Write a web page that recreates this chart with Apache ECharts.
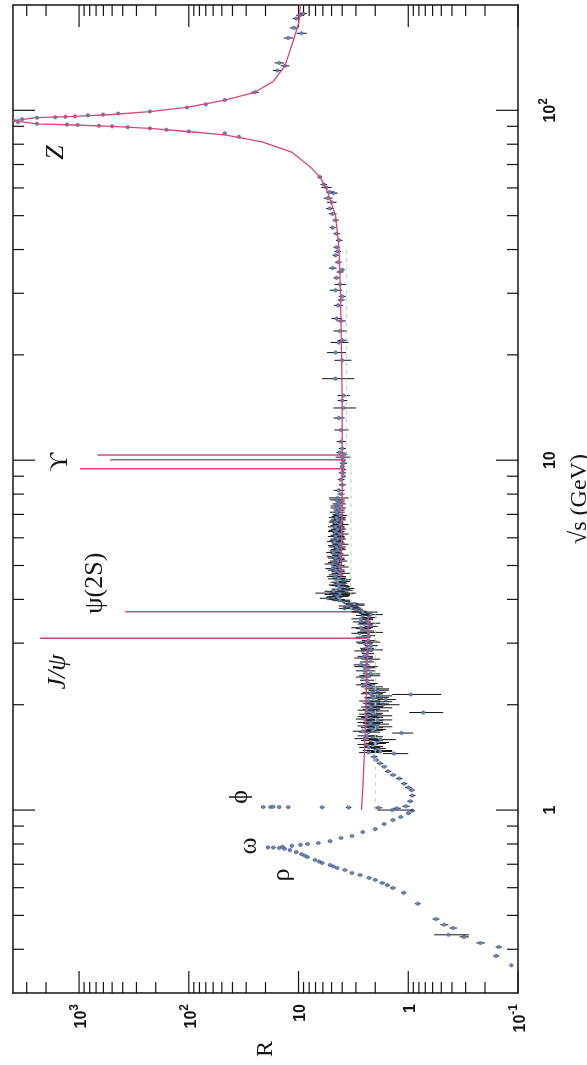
<!DOCTYPE html>
<html><head><meta charset="utf-8">
<script src="https://cdn.jsdelivr.net/npm/echarts@6/dist/echarts.min.js"></script>
<style>html,body{margin:0;padding:0;background:#fff}#c{width:587px;height:1065px}</style>
</head><body><div id="c"></div>
<script>
// ---- axis ranges and ticks ----
const rRange = [0.1, 4000];
const sRange = [0.3, 200];
const rMajorTicks = [0.1, 1, 10, 100, 1000];
const rMinorTicks = [0.2,0.3,0.4,0.5,0.6,0.7,0.8,0.9, 2,3,4,5,6,7,8,9, 20,30,40,50,60,70,80,90, 200,300,400,500,600,700,800,900, 2000,3000];
const sMajorTicks = [1, 10, 100];
const sMinorTicks = [0.4,0.5,0.6,0.7,0.8,0.9, 2,3,4,5,6,7,8,9, 20,30,40,50,60,70,80,90];

// ---- data points: [sqrt(s) GeV, R, error on R] ----
const lowEnergyPts = [[0.36,0.115,0],[0.383,0.158,0.01],[0.406,0.15,0.01],[0.417,0.22,0.02],[0.434,0.31,0.03],[0.44,0.43,0.15],[0.46,0.39,0.03],[0.47,0.47,0.04],[0.488,0.56,0.04],[0.54,0.82,0.05],[0.58,1.1,0.06],
 [0.599,1.38,0.08],[0.61,1.55,0.08],[0.619,1.73,0.1],[0.631,2.0,0.1],[0.64,2.28,0.12],[0.652,2.75,0.15],[0.661,3.26,0.15],[0.674,3.78,0.2],[0.683,4.45,0.2],[0.69,4.8,0.2],[0.696,5.16,0.25],[0.706,6.1,0.3],[0.713,6.5,0.3],[0.72,7.1,0.3],[0.734,8.3,0.4],[0.741,8.8,0.4],[0.748,9.4,0.4],[0.758,10.5,0.5],[0.768,12,0.5],[0.775,13.4,0.6],[0.779,15,0.6],[0.781,17,0.8],[0.782,19,0.8],[0.785,14,0.6],[0.79,11.5,0.5],[0.795,9.6,0.4],[0.8,8.3,0.4],[0.805,6.6,0.3],[0.815,5.16,0.25],[0.832,4.1,0.2],[0.843,3.26,0.15],[0.865,2.6,0.12],[0.882,2.0,0.1],[0.912,1.66,0.08],[0.936,1.38,0.07],[0.955,1.17,0.06],[0.98,1.0,0.05],[0.995,0.92,0.05]];
const phiPts = [[1.0,1.4,0.5],[1.012,1.27,0.1],[1.015,1.88,0.15],[1.017,3.5,0.2],[1.018,6.1,0.3],[1.019,12.4,0.5],[1.0195,15,0.6],[1.02,18,0.8],[1.0205,21,1],[1.022,17,0.7],[1.025,1.05,0.08]];
const midPts = [[1.06,0.96,0.06],[1.1,0.92,0.06],[1.14,0.93,0.06],[1.16,1.0,0.07],[1.19,1.09,0.07],[1.23,1.21,0.08],[1.26,1.38,0.09],[1.29,1.53,0.1],[1.33,1.66,0.1],[1.36,1.81,0.12],[1.39,1.96,0.12],[1.42,2.05,0.15],[1.45,1.35,0.35]];
const blobPts = [[1.46,2.3,0.5],[1.48,2.0,0.6],[1.5,1.9,0.3],[1.52,2.1,0.4],[1.54,2.4,0.5],[1.56,1.9,0.4],[1.58,2.2,0.5],[1.6,2.5,0.6],[1.62,2.1,0.4],[1.66,1.15,0.25],[1.67,2.3,0.5],[1.68,2.6,0.6],[1.7,2.0,0.4],[1.72,2.2,0.5],[1.74,2.4,0.5],[1.76,1.9,0.4],[1.78,2.3,0.6],[1.8,2.1,0.4],[1.82,2.5,0.5],[1.84,2.2,0.5],[1.86,1.8,0.4],[1.88,2.3,0.5],[1.9,0.73,0.25],[1.92,2.0,0.5],[1.94,2.2,0.4],[1.96,1.9,0.5],[1.98,2.1,0.4],[2.0,1.7,0.5],[2.02,2.2,0.4],[2.04,1.9,0.5],[2.07,1.6,0.3],[2.1,2.0,0.5],[2.12,1.8,0.4],[2.14,0.95,0.45],[2.17,2.1,0.5],[2.2,1.9,0.4],[2.25,2.2,0.5],[2.3,2.3,0.4]];
const blobPts2 = [[1.47,1.8,0.4],[1.51,2.3,0.5],[1.55,2.0,0.4],[1.59,1.8,0.5],[1.63,2.4,0.5],[1.69,2.1,0.4],[1.73,1.9,0.5],[1.77,2.2,0.4],[1.81,1.9,0.5],[1.85,2.4,0.5],[1.89,2.1,0.4],[1.93,2.4,0.5],[1.97,2.2,0.5],[2.01,2.0,0.5],[2.05,2.3,0.5],[2.09,2.1,0.4],[2.15,2.2,0.5],[2.22,2.0,0.5],[2.28,2.5,0.5]];
const belowCharmPts = [[2.35,2.4,0.35],[2.4,2.6,0.4],[2.45,2.2,0.4],[2.5,2.5,0.5],[2.55,2.3,0.3],[2.6,2.7,0.45],[2.65,2.4,0.35],[2.7,2.2,0.4],[2.75,2.5,0.4],[2.8,2.35,0.3],[2.85,2.6,0.5],[2.9,2.4,0.35],[2.95,2.2,0.3],[3.0,2.5,0.4],[3.05,2.3,0.35],[3.12,2.6,0.4],[3.15,2.3,0.3],[3.2,2.8,0.5],[3.25,2.4,0.35],[3.3,2.6,0.4],[3.35,2.2,0.3],[3.4,2.5,0.4],[3.45,2.7,0.5],[3.5,2.4,0.3],[3.55,2.3,0.35],[3.6,2.6,0.4],[3.65,2.5,0.3],[3.7,2.8,0.4]];
const belowCharmPts2 = [[2.42,2.3,0.5],[2.57,2.5,0.6],[2.72,2.6,0.5],[2.87,2.2,0.5],[3.02,2.4,0.6],[3.22,2.3,0.6],[3.32,2.7,0.6],[3.42,2.3,0.5],[3.52,2.7,0.6],[3.62,2.2,0.5],[3.68,2.6,0.7]];
const charmPts = [[3.75,3.0,0.4],[3.77,3.8,0.5],[3.8,3.2,0.4],[3.85,2.9,0.4],[3.9,3.4,0.5],[3.95,3.9,0.5],[4.0,4.6,0.8],[4.03,5.4,1.0],[4.06,4.8,0.8],[4.1,4.1,0.7],[4.13,4.6,1.2],[4.17,5.0,2.0],[4.2,4.3,0.8],[4.25,3.8,0.6],[4.3,3.6,0.5],[4.35,4.0,0.6],[4.4,4.5,0.8],[4.45,4.2,0.6],[4.5,3.9,0.5],[4.55,3.8,0.5]];
const charmPts2 = [[3.78,3.3,0.6],[3.83,3.6,0.7],[3.88,3.1,0.6],[3.98,4.2,0.8],[4.08,4.4,0.9],[4.15,4.2,1.0],[4.22,4.8,1.0],[4.28,4.2,0.8],[4.38,4.3,0.8],[4.48,4.4,0.7],[4.58,4.6,0.8]];
const continuumPts = [[4.6,4.3,0.6],[4.7,4.6,0.7],[4.8,4.4,0.6],[4.9,4.9,0.8],[5.0,4.4,0.6],[5.1,4.7,0.7],[5.2,4.3,0.5],[5.3,4.8,0.7],[5.4,4.5,0.6],[5.5,4.6,0.6],[5.6,4.3,0.5],[5.7,4.7,0.7],[5.8,4.4,0.6],[5.9,4.6,0.6],[6.0,4.3,0.5],[6.1,4.5,0.6],[6.2,4.4,0.5],[6.3,4.7,0.6],[6.4,4.3,0.5],[6.5,4.5,0.6],[6.6,4.4,0.5],[6.7,4.6,0.6],[6.8,4.3,0.5],[6.9,4.5,0.5],[7.0,4.4,0.5],[7.2,4.3,0.5],[7.4,4.5,0.6],[7.6,4.2,0.4],[7.8,4.4,0.9],[8.0,4.1,0.3],[8.2,4.3,0.5],[8.5,4.0,0.3],[8.8,4.1,0.3],[9.0,3.9,0.2],[9.2,4.0,0.3],[9.4,3.9,0.2],[9.6,4.0,0.2],[9.8,3.9,0.3],[10.0,3.9,0.2],[10.2,4.0,0.6],[10.4,3.8,0.2],[10.52,4.2,0.3]];
const continuumPts2 = [[4.65,4.6,0.9],[4.75,4.2,0.8],[4.85,4.6,0.8],[4.95,4.2,0.7],[5.05,4.9,0.9],[5.15,4.4,0.8],[5.25,4.6,0.8],[5.35,4.2,0.7],[5.45,4.8,0.8],[5.55,4.4,0.7],[5.65,4.5,0.8],[5.75,4.2,0.7],[5.85,4.7,0.8],[5.95,4.4,0.7],[6.05,4.6,0.8],[6.15,4.2,0.7],[6.25,4.6,0.8],[6.35,4.4,0.7],[6.45,4.6,0.8],[6.55,4.2,0.7],[6.65,4.6,0.7],[6.75,4.4,0.7],[6.85,4.5,0.8],[6.95,4.2,0.6],[7.1,4.5,0.7],[7.3,4.4,0.7],[7.5,4.3,0.6],[7.7,4.5,0.7]];
const highPts = [[10.8,4.0,0.3],[11.3,4.1,0.4],[12.2,4.1,0.6],[13.2,4.3,0.5],[14.1,3.9,0.9],[14.8,4.0,0.4],[15.3,3.9,0.5],[17.1,4.6,1.5],[19.3,4.0,0.7],[20.3,4.6,0.9],[21.7,4.3,0.8],[22.0,4.0,0.4],[23.4,4.2,0.6],[25.0,4.1,0.4],[25.4,4.5,0.5],[27.7,4.35,0.4],[28.7,4.1,0.3],[29.4,4.0,0.3],[30.6,4.6,0.6],[31.8,4.2,0.5],[33.2,4.5,0.3],[34.5,4.2,0.3],[35.0,4.0,0.2],[35.4,4.9,0.4],[36.8,4.35,0.3],[38.5,4.6,0.3],[39.5,4.4,0.3],
 [40.6,4.5,0.3],[42.5,4.27,0.3],[44.4,4.5,0.3],[46.2,4.9,0.3],[48.5,4.6,0.3],[50.6,4.9,0.4],[52.4,5.2,0.4],[54.6,5.0,0.5],[56.1,5.4,0.5],[58.0,4.8,0.4],[58.4,5.2,0.4],[60.2,5.6,0.6],[61.4,5.9,0.4],[64.5,6.4,0.3]];
const zPts = [[84.0,35,1],[86.0,47,1.5],[87.0,100,3],[88.0,160,4],[88.8,226,5],[89.5,360,8],[90.0,500,10],[90.3,660,12],[90.8,1030,15],[91.0,1290,18],[91.5,2420,25],[92.5,3600,30],[93.4,3950,30],[94.3,3300,30],[95.2,2420,25],[95.5,1650,18],[95.8,1330,15],[96.1,1090,12],[96.8,830,10],[97.2,605,8],[97.9,440,6],[99.2,226,5],[101.9,104,3],[104,70,2],[107,47,2],[112.6,25,2]];
const lep2Pts = [[130,15.6,1.5],[134,13.3,1.2],[136.6,15,1.5],[161,12.4,1.2],[166,9.4,1],[172,11,1],[183,10.5,0.8],[187,9.7,0.8],[189,9.1,0.7]];

// ---- QCD curve (magenta) : [sqrt(s), R] ----
const curveLight = [[1.0,2.67],[1.2,2.58],[1.5,2.5],[2.0,2.43],[2.5,2.38],[3.0,2.34],[3.6,2.31]];
const curveHeavy = [[4.6,4.1],[6,4.05],[8,4.0],[10,4.0],[15,4.0],[20,4.05],[30,4.15],[40,4.27],[50,4.6],[60,5.6],[64.5,6.4],[68.6,7.7],[75.8,11.4],[81.3,21.5],[85.1,47],[87.0,104],[88.8,226],[90.0,500],[90.8,1090],[91.5,2420],[93.4,4000],[95.3,2420],[96.1,1090],[97.3,500],[99.2,226],[101.9,104],[107,47],[112.6,25],[121,17],[134,13.3],[155,11.4],[177,10],[200,9.6]];
// naive quark-parton model (green dashed)
const naiveUDS = [[1.0,2.0],[3.7,2.0]];
const naiveUDSC = [[3.7,3.33],[10.4,3.33]];
const naiveUDSCB = [[10.4,3.67],[40,3.67]];

// ---- narrow resonances: [mass, R peak, R base] ----
const resonanceMass = [3.097, 3.686, 9.46, 10.023, 10.355];
const resonancePeak = [2270, 380, 980, 520, 680];
const resonanceBase = [2.4, 2.4, 4.0, 4.0, 4.0];

// ---- annotations: text, sqrt(s), R ----
const annText = ['Z', 'ϒ', 'ψ(2S)', 'J/ψ', 'ϕ', 'ω', 'ρ'];
const annS = [75.8, 9.87, 4.45, 2.48, 1.09, 0.79, 0.652];
const annR = [1620, 1490, 716, 1550, 34, 28.2, 14.1];
const annItalic = [true, false, false, true, false, false, false];

const INK = '#141414', PINK = '#d9467c', BLUE = '#6a86ba';

function isDecade(v){ const l = Math.log10(v); return Math.abs(l - Math.round(l)) < 1e-6; }
function powLabel(v){
  if (!isDecade(v)) return '';
  const e = Math.round(Math.log10(v));
  if (e === 0) return '{b|1}';
  if (e === 1) return '{b|10}';
  return '{b|10}{s|' + e + '}';
}
const richLab = {
  b: {fontSize: 16, fontWeight: 'bold', fontFamily: 'Liberation Sans', color: INK, verticalAlign: 'bottom', lineHeight: 21},
  s: {fontSize: 12, fontWeight: 'bold', fontFamily: 'Liberation Sans', color: INK, verticalAlign: 'top', lineHeight: 21}
};
const lineStyle = {color: INK, width: 1.5};

function pointsSeries(pts){
  return {
    type: 'custom', xAxisIndex: 0, yAxisIndex: 0, clip: true, silent: true, animation: false,
    data: pts.map(p => [p[1], p[0], p[2]]),
    renderItem: function(params, api){
      const R = api.value(0), s = api.value(1), e = api.value(2);
      const c = api.coord([R, s]);
      const ch = [];
      if (e > 0) {
        const a = api.coord([Math.max(R - e, 0.01), s]);
        const b = api.coord([R + e, s]);
        ch.push({type: 'line', shape: {x1: a[0], y1: c[1], x2: b[0], y2: c[1]}, style: {stroke: INK, lineWidth: 1}});
      }
      ch.push({type: 'circle', shape: {cx: c[0], cy: c[1], r: 1.8}, style: {fill: BLUE, stroke: '#3b4d75', lineWidth: 0.4}});
      return {type: 'group', children: ch};
    }
  };
}

function tickLine(x1,y1,x2,y2){ return {type:'line', shape:{x1,y1,x2,y2}, style:{stroke: INK, lineWidth: 1.2}}; }

const rTickData = rMajorTicks.map(v => [v, 1, 1]).concat(rMinorTicks.map(v => [v, 1, 0]));
const sTickData = sMajorTicks.map(v => [1, v, 1]).concat(sMinorTicks.map(v => [1, v, 0]));

const option = {
  backgroundColor: '#ffffff',
  animation: false,
  grid: {left: 13, right: 69, top: 5, bottom: 72, containLabel: false, outerBoundsMode: 'none'},
  xAxis: [
    {type: 'log', logBase: 10, min: rRange[0], max: rRange[1], inverse: true, position: 'bottom',
     axisLine: {show: true, onZero: false, lineStyle}, axisTick: {show: false}, minorTick: {show: false}, splitLine: {show: false},
     axisLabel: {show: true, rotate: 90, margin: 11, formatter: powLabel, rich: richLab, hideOverlap: false, showMinLabel: true, showMaxLabel: true},
     name: 'R', nameLocation: 'middle', nameGap: 48, nameRotate: 90, nameMoveOverlap: false,
     nameTextStyle: {fontFamily: 'Liberation Serif', fontSize: 24, color: INK}},
    {type: 'log', logBase: 10, min: rRange[0], max: rRange[1], inverse: true, position: 'top',
     axisLine: {show: true, onZero: false, lineStyle}, axisTick: {show: false}, axisLabel: {show: false}, splitLine: {show: false}}
  ],
  yAxis: [
    {type: 'log', logBase: 10, min: sRange[0], max: sRange[1], position: 'right',
     axisLine: {show: true, onZero: false, lineStyle}, axisTick: {show: false}, minorTick: {show: false}, splitLine: {show: false},
     axisLabel: {show: true, rotate: 90, margin: 20, formatter: powLabel, rich: richLab, hideOverlap: false},
     name: '√s (GeV)', nameLocation: 'middle', nameGap: 50, nameRotate: 90, nameMoveOverlap: false,
     nameTextStyle: {fontFamily: 'Liberation Serif', fontSize: 24, color: INK}},
    {type: 'log', logBase: 10, min: sRange[0], max: sRange[1], position: 'left',
     axisLine: {show: true, onZero: false, lineStyle}, axisTick: {show: false}, axisLabel: {show: false}, splitLine: {show: false}}
  ],
  series: [
    {type: 'custom', xAxisIndex: 0, yAxisIndex: 0, silent: true, clip: false, data: rTickData,
     renderItem: function(params, api){
       const v = api.value(0), L = api.value(2) ? 22 : 11;
       const b = api.coord([v, sRange[0]]), t = api.coord([v, sRange[1]]);
       return {type: 'group', children: [tickLine(b[0], b[1], b[0], b[1] - L), tickLine(t[0], t[1], t[0], t[1] + L)]};
     }},
    {type: 'custom', xAxisIndex: 0, yAxisIndex: 0, silent: true, clip: false, data: sTickData,
     renderItem: function(params, api){
       const v = api.value(1), L = api.value(2) ? 22 : 11;
       const r = api.coord([rRange[0], v]), l = api.coord([rRange[1], v]);
       return {type: 'group', children: [tickLine(r[0], r[1], r[0] - L, r[1]), tickLine(l[0], l[1], l[0] + L, l[1])]};
     }},
    ...[naiveUDS, naiveUDSC, naiveUDSCB].map(d => ({type: 'line', xAxisIndex: 0, yAxisIndex: 0, silent: true, showSymbol: false, symbol: 'none',
      data: d.map(p => [p[1], p[0]]), lineStyle: {color: '#acdcac', width: 1, type: [4, 4]}})),
    ...[curveLight, curveHeavy].map(d => ({type: 'line', xAxisIndex: 0, yAxisIndex: 0, silent: true, showSymbol: false, symbol: 'none', clip: true,
      data: d.map(p => [p[1], p[0]]), lineStyle: {color: PINK, width: 1.3}})),
    {type: 'custom', xAxisIndex: 0, yAxisIndex: 0, silent: true, clip: true,
     data: resonanceMass.map((m, i) => [resonancePeak[i], m, resonanceBase[i]]),
     renderItem: function(params, api){
       const top = api.coord([api.value(0), api.value(1)]), base = api.coord([api.value(2), api.value(1)]);
       return {type: 'line', shape: {x1: base[0], y1: base[1], x2: top[0], y2: top[1]}, style: {stroke: PINK, lineWidth: 1.5}};
     }},
    ...[lowEnergyPts, phiPts, midPts, blobPts, blobPts2, belowCharmPts, belowCharmPts2, charmPts, charmPts2, continuumPts, continuumPts2, highPts, zPts, lep2Pts].map(pointsSeries),
    {type: 'custom', xAxisIndex: 0, yAxisIndex: 0, silent: true, clip: false,
     data: annText.map((t, i) => [annR[i], annS[i]]),
     renderItem: function(params, api){
       const c = api.coord([api.value(0), api.value(1)]);
       const i = params.dataIndex;
       return {type: 'text', x: c[0], y: c[1], rotation: Math.PI / 2,
         style: {text: annText[i], fill: INK, fontSize: 26, fontFamily: 'Liberation Serif, DejaVu Serif',
           fontStyle: annItalic[i] ? 'italic' : 'normal',
           align: 'center', verticalAlign: 'middle', textAlign: 'center', textVerticalAlign: 'middle'}};
     }}
  ]
};

const chart = echarts.init(document.getElementById('c'), null, {renderer: 'canvas'});
chart.setOption(option);
</script></body></html>
